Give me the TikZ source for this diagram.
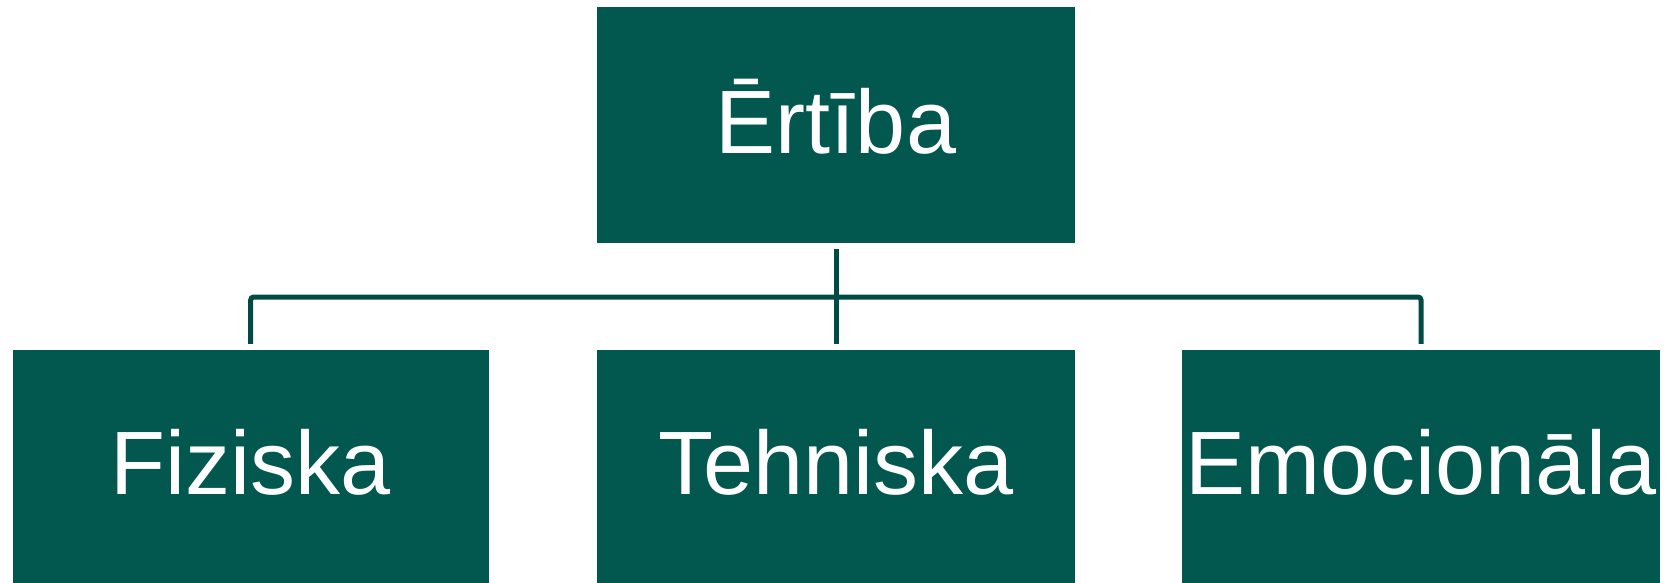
\documentclass[tikz,border=0pt]{standalone}
\usepackage{fontspec}
\setmainfont{Liberation Sans}
\definecolor{boxfill}{HTML}{02574F}
\definecolor{conncol}{HTML}{024B45}
\begin{document}
\begin{tikzpicture}[x=1pt,y=-1pt,
  box/.style={fill=boxfill,draw=none,inner sep=0pt},
  txt/.style={inner sep=0pt,text=white,font=\fontsize{90}{94}\selectfont},
  conn/.style={draw=conncol,line width=5pt}]
\useasboundingbox (0,0) rectangle (1673,583);
\node[box,minimum width=478pt,minimum height=236pt,label={[txt,yshift=8pt]center:Ērtība}] (top) at (836,125) {};
\node[box,minimum width=476pt,minimum height=233pt,label={[txt,yshift=4pt]center:Fiziska}] (left) at (250.7,466.5) {};
\node[box,minimum width=478pt,minimum height=233pt,label={[txt,yshift=4pt]center:Tehniska}] (mid) at (836,466.5) {};
\node[box,minimum width=478pt,minimum height=233pt,label={[txt,yshift=4pt]center:Emocionāla}] (right) at (1421,466.5) {};
\coordinate (bus) at (836,297);
\draw[conn] ([yshift=-5.5pt]top.south) -- ([yshift=6pt]mid.north);
\draw[conn,rounded corners=3pt] ([yshift=6pt]left.north) |- (bus) -| ([yshift=6pt]right.north);
\end{tikzpicture}
\end{document}
